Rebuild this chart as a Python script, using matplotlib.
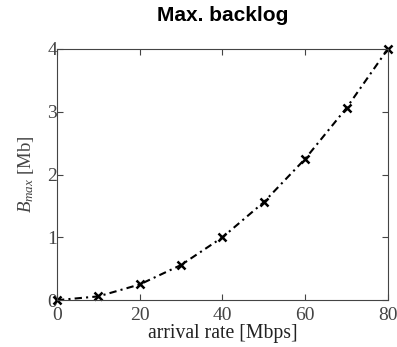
import numpy as np
import matplotlib.pyplot as plt

plt.rcParams['mathtext.fontset'] = 'custom'
plt.rcParams['mathtext.rm'] = 'Liberation Serif'
plt.rcParams['mathtext.it'] = 'Liberation Serif:italic'

# arrival rate [Mbps] and max backlog [Mb]
rate = [0, 10, 20, 30, 40, 50, 60, 70, 80]
backlog = [0, 0.06, 0.25, 0.56, 1.0, 1.56, 2.25, 3.06, 4.0]

fig = plt.figure(figsize=(3.97, 3.47), dpi=100)
ax = fig.add_axes([0.1436, 0.135, 0.8334, 0.724])

ax.plot(rate, backlog, color='black', linestyle=(0, (3.5, 2, 1, 2)), linewidth=1.5,
        marker='x', markersize=6, markeredgewidth=1.8, clip_on=False)

ax.set_xlim(0, 80)
ax.set_ylim(0, 4)
ax.set_xticks([0, 20, 40, 60, 80])
ax.set_yticks([0, 1, 2, 3, 4])

grey = '#444444'
for s in ax.spines.values():
    s.set_color(grey)
    s.set_linewidth(0.8)
ax.tick_params(direction='in', top=True, right=True, length=4, width=0.8,
               color=grey, labelcolor=grey, labelsize=14, pad=0)
ax.tick_params(axis='x', pad=5)
for lbl in ax.get_xticklabels() + ax.get_yticklabels():
    lbl.set_family('Liberation Serif')

ax.set_xlabel('arrival rate [Mbps]', family='Liberation Serif', fontsize=14.2,
              color='#222222', labelpad=0)
ax.set_ylabel(r'$B_{max}$ [Mb]', family='Liberation Serif', fontsize=13.5,
              color=grey, labelpad=8)
ax.set_title('Max. backlog', family='Liberation Sans', fontweight='bold',
             fontsize=15, pad=20)

fig.savefig('out.png', dpi=100)
